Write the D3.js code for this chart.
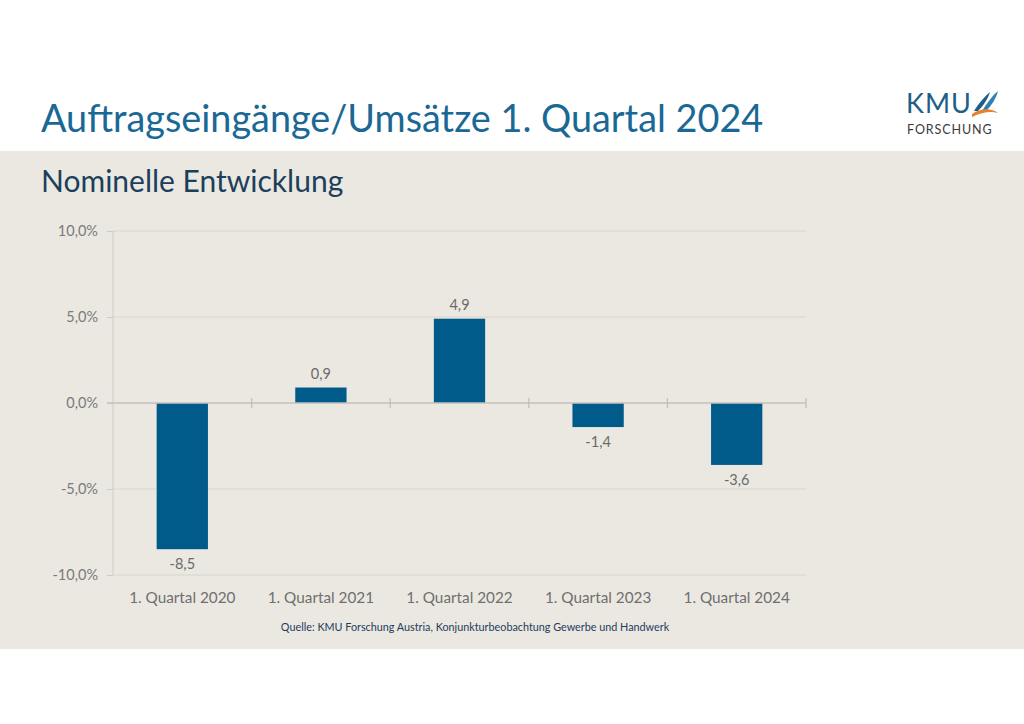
<!DOCTYPE html>
<html>
<head>
<meta charset="utf-8">
<script src="https://cdn.jsdelivr.net/npm/d3@7"></script>
<style>
  html, body { margin: 0; padding: 0; background: #ffffff; }
  svg { display: block; }
</style>
</head>
<body>
<svg id="chart" width="1024" height="724"></svg>
<script>
// ---- data ----
const categories = ["1. Quartal 2020", "1. Quartal 2021", "1. Quartal 2022", "1. Quartal 2023", "1. Quartal 2024"];
const values = [-8.5, 0.9, 4.9, -1.4, -3.6];
const yTicks = [-10, -5, 0, 5, 10];
const titleText = "Auftragseingänge/Umsätze 1. Quartal 2024";
const subtitleText = "Nominelle Entwicklung";
const sourceText = "Quelle: KMU Forschung Austria, Konjunkturbeobachtung Gewerbe und Handwerk";

const svg = d3.select("#chart");
const font = "Lato, 'Open Sans', sans-serif";

// background panel
svg.append("rect").attr("x", 0).attr("y", 151).attr("width", 1024).attr("height", 498).attr("fill", "#ebe8e1");

// title
svg.append("text").attr("x", 41).attr("y", 132).attr("font-family", font).attr("font-size", 37.8)
  .attr("fill", "#1a6895").text(titleText);
svg.append("text").attr("x", 41).attr("y", 192).attr("font-family", font).attr("font-size", 30)
  .attr("fill", "#1c3f5c").text(subtitleText);

// logo
const logo = svg.append("g");
logo.append("text").attr("x", 906).attr("y", 113).attr("font-family", font).attr("font-size", 27)
  .attr("fill", "#1d5f86").attr("letter-spacing", 1).text("KMU");
logo.append("text").attr("x", 907).attr("y", 134).attr("font-family", font).attr("font-size", 12.5)
  .attr("fill", "#3a3a3a").attr("letter-spacing", 0.9).text("FORSCHUNG");
logo.append("path").attr("d", "M974,111 C979,103 984,97 990,92 C988,99 983,106 978,111 Z").attr("fill", "#1d5f86");
logo.append("path").attr("d", "M982,111 C987,103 992,96 998,91 C996,99 991,106 986,111 Z").attr("fill", "#2f7fb0");
logo.append("path").attr("d", "M972,114 C981,108 991,108 998,113 C991,111 982,112 972,117 Z").attr("fill", "#e9802c");

// chart
const margin = { left: 113, right: 806, top: 231, bottom: 575 };
const x = d3.scaleBand().domain(categories).range([margin.left, margin.right]).paddingInner(0.63).paddingOuter(0.315);
const y = d3.scaleLinear().domain([-10, 10]).range([margin.bottom, margin.top]);

const g = svg.append("g");

// gridlines
g.selectAll(".grid").data(yTicks.filter(d => d !== 0)).join("line")
  .attr("x1", margin.left).attr("x2", margin.right)
  .attr("y1", d => y(d)).attr("y2", d => y(d))
  .attr("stroke", "#d8d5ce").attr("stroke-width", 1);

// y axis
const yAxis = d3.axisLeft(y).tickValues(yTicks).tickSize(6).tickPadding(9)
  .tickFormat(d => d3.format(".1f")(d).replace(".", ",").replace("−", "-") + "%");
const ya = g.append("g").attr("transform", `translate(${margin.left},0)`).call(yAxis);
ya.select(".domain").attr("stroke", "#cfccc5").attr("d", `M0,${y(10)}V${y(-10)}`);
ya.selectAll(".tick line").attr("stroke", "#cfccc5");
ya.selectAll(".tick text").attr("font-family", font).attr("font-size", 14.5).attr("fill", "#7a7a7a");

// bars
g.selectAll(".bar").data(values).join("rect")
  .attr("x", (d, i) => x(categories[i]))
  .attr("width", x.bandwidth())
  .attr("y", d => y(Math.max(0, d)))
  .attr("height", d => Math.abs(y(d) - y(0)))
  .attr("fill", "#005b8a");

// zero axis with category boundary ticks
const boundaries = d3.range(categories.length + 1).map(i => margin.left + i * x.step());
g.append("line").attr("x1", margin.left - 6).attr("x2", margin.right).attr("y1", y(0)).attr("y2", y(0))
  .attr("stroke", "#c4c1ba").attr("stroke-width", 1.3);
g.selectAll(".btick").data(boundaries.slice(1)).join("line")
  .attr("x1", d => d).attr("x2", d => d).attr("y1", y(0) - 5).attr("y2", y(0) + 5)
  .attr("stroke", "#c4c1ba").attr("stroke-width", 1.3);

// x labels
g.selectAll(".xl").data(categories).join("text")
  .attr("x", d => x(d) + x.bandwidth() / 2).attr("y", 603)
  .attr("text-anchor", "middle").attr("font-family", font).attr("font-size", 15.3).attr("fill", "#6f6f6f")
  .text(d => d);

// value labels
g.selectAll(".vl").data(values).join("text")
  .attr("x", (d, i) => x(categories[i]) + x.bandwidth() / 2)
  .attr("y", d => d >= 0 ? y(d) - 9 : y(d) + 20)
  .attr("text-anchor", "middle").attr("font-family", font).attr("font-size", 14.5).attr("fill", "#6a6a6a")
  .text(d => String(d).replace(".", ","));

// source
svg.append("text").attr("x", 475).attr("y", 631).attr("text-anchor", "middle")
  .attr("font-family", font).attr("font-size", 10.8).attr("fill", "#1d3c60").text(sourceText);
</script>
</body>
</html>
